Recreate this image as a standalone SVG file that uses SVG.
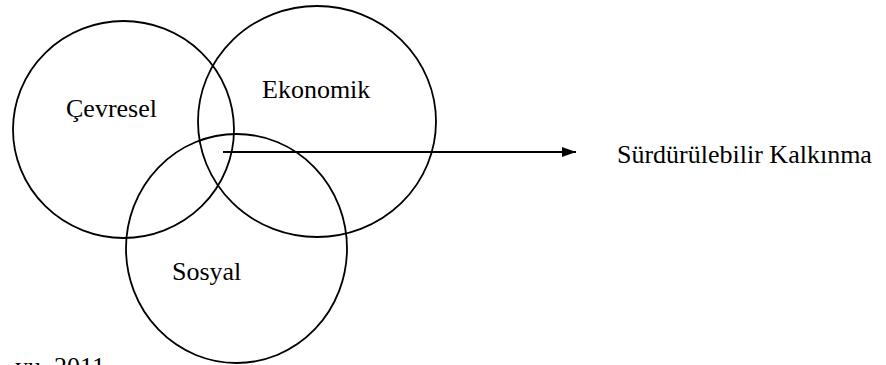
<svg xmlns="http://www.w3.org/2000/svg" width="886" height="365" viewBox="0 0 886 365">
  <style>
    .ring { fill: none; stroke: #000; stroke-width: 1.8; }
    .lbl { font-family: "Liberation Serif", "Times New Roman", serif; font-size: 26px; fill: #000; }
    .link { stroke: #000; stroke-width: 1.8; fill: none; }
  </style>
  <defs>
    <marker id="head" markerWidth="14" markerHeight="10" refX="14" refY="5" orient="auto" markerUnits="userSpaceOnUse">
      <polygon points="0,0 14,5 0,10" fill="#000"/>
    </marker>
  </defs>
  <rect width="886" height="365" fill="#fff"/>

  <!-- three overlapping pillars -->
  <g id="cevresel">
    <ellipse class="ring" cx="123.5" cy="129.5" rx="110.5" ry="108.5"/>
    <text class="lbl" x="66" y="117">Çevresel</text>
  </g>
  <g id="ekonomik">
    <ellipse class="ring" cx="317" cy="121.5" rx="119" ry="115.5"/>
    <text class="lbl" x="262" y="98">Ekonomik</text>
  </g>
  <g id="sosyal">
    <ellipse class="ring" cx="236.5" cy="248.5" rx="110.5" ry="114.5"/>
    <text class="lbl" x="172" y="280">Sosyal</text>
  </g>
  <g id="surdurulebilir">
    <text class="lbl" x="617" y="163">Sürdürülebilir Kalkınma</text>
  </g>

  <g id="connectors">
    <line class="link" x1="223" y1="152" x2="576" y2="152" marker-end="url(#head)"/>
  </g>

  <!-- source line, running past the bottom edge -->
  <text class="lbl" x="105" y="375" text-anchor="end">yu, 2011</text>
</svg>
